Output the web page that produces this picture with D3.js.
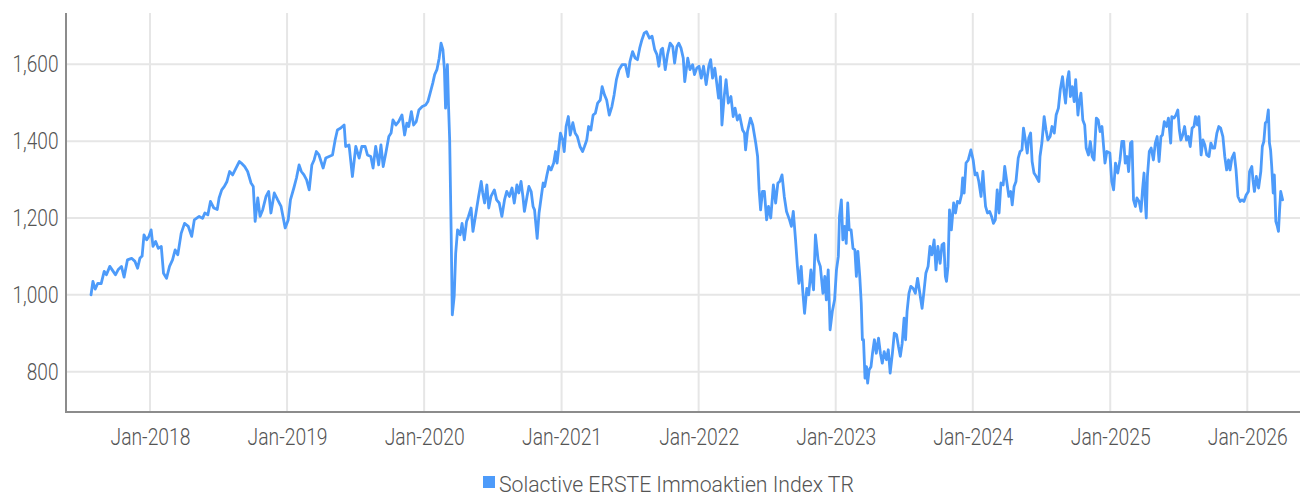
<!DOCTYPE html>
<html>
<head>
    <meta charset="utf-8">
    <script src="https://cdn.jsdelivr.net/npm/d3@7"></script>
    <style>
        body {
            margin: 0;
            background: #fff;
        }
        svg {
            display: block;
        }
        text {
            font-family: Roboto, "Liberation Sans", sans-serif;
            font-weight: 300;
            fill: #555;
        }
    </style>
</head>
<body>
    <svg id="chart" width="1306" height="496"></svg>

    <script>
        // index level readings, roughly weekly
        const dates = [
            "2017-07-28","2017-08-02","2017-08-08","2017-08-15","2017-08-24","2017-09-01","2017-09-07","2017-09-16","2017-09-25","2017-10-01",
            "2017-10-08","2017-10-17","2017-10-24","2017-11-02","2017-11-13","2017-11-22","2017-11-29","2017-12-05","2017-12-11","2017-12-16",
            "2017-12-23","2017-12-29","2018-01-04","2018-01-09","2018-01-16","2018-01-23","2018-01-31","2018-02-06","2018-02-14","2018-02-22",
            "2018-03-02","2018-03-09","2018-03-16","2018-03-25","2018-04-03","2018-04-13","2018-04-22","2018-04-29","2018-05-12","2018-05-21",
            "2018-05-27","2018-06-04","2018-06-11","2018-06-20","2018-06-29","2018-07-04","2018-07-11","2018-07-18","2018-07-25","2018-08-01",
            "2018-08-09","2018-08-18","2018-08-27",
            "2018-09-01","2018-09-10","2018-09-18","2018-09-27","2018-10-03","2018-10-08","2018-10-15","2018-10-21","2018-10-28","2018-11-06",
            "2018-11-13","2018-11-19","2018-11-28","2018-12-07","2018-12-16","2018-12-27","2019-01-04","2019-01-10","2019-01-19","2019-01-26",
            "2019-02-02","2019-02-08","2019-02-15","2019-02-22","2019-03-01","2019-03-08","2019-03-14","2019-03-20","2019-03-27","2019-04-07",
            "2019-04-14","2019-04-23","2019-05-02","2019-05-09","2019-05-15","2019-05-24","2019-06-02","2019-06-06","2019-06-15","2019-06-24",
            "2019-07-03","2019-07-12","2019-07-19","2019-07-28","2019-08-03","2019-08-12","2019-08-18","2019-08-25","2019-09-02","2019-09-08",
            "2019-09-14",
            "2019-09-21","2019-09-29","2019-10-05","2019-10-10","2019-10-18","2019-10-25","2019-11-03","2019-11-10","2019-11-16","2019-11-21",
            "2019-11-28","2019-12-04","2019-12-11","2019-12-18","2019-12-27","2020-01-05","2020-01-11","2020-01-17","2020-01-24","2020-01-29",
            "2020-02-04","2020-02-10","2020-02-15","2020-02-20","2020-02-24","2020-02-27","2020-03-03","2020-03-06","2020-03-09","2020-03-13",
            "2020-03-16","2020-03-21","2020-03-25","2020-03-30","2020-04-06","2020-04-11","2020-04-17","2020-04-23","2020-04-28","2020-05-05",
            "2020-05-10","2020-05-18","2020-05-25","2020-06-01","2020-06-05","2020-06-10","2020-06-16","2020-06-21","2020-06-27","2020-07-06",
            "2020-07-12","2020-07-19","2020-07-26","2020-08-02","2020-08-08","2020-08-15","2020-08-22","2020-08-28","2020-09-04","2020-09-09",
            "2020-09-15","2020-09-20","2020-09-24","2020-10-01","2020-10-06","2020-10-12","2020-10-17",
            "2020-10-21","2020-10-28","2020-11-02","2020-11-08","2020-11-13","2020-11-17","2020-11-23","2020-11-28","2020-12-04","2020-12-11",
            "2020-12-16","2020-12-20","2020-12-25","2020-12-29","2021-01-04","2021-01-08","2021-01-13","2021-01-19","2021-01-24","2021-01-31",
            "2021-02-06","2021-02-12","2021-02-19","2021-02-26","2021-03-03","2021-03-09","2021-03-14","2021-03-20","2021-03-26","2021-04-01",
            "2021-04-07","2021-04-14","2021-04-19","2021-04-25","2021-05-01","2021-05-08","2021-05-15","2021-05-21","2021-05-27","2021-06-03",
            "2021-06-11","2021-06-20","2021-06-27","2021-07-02","2021-07-09","2021-07-16","2021-07-22","2021-07-28","2021-08-03","2021-08-09",
            "2021-08-15","2021-08-23","2021-08-30","2021-09-06","2021-09-12","2021-09-17","2021-09-23","2021-09-27","2021-10-04","2021-10-10",
            "2021-10-17","2021-10-24","2021-10-29","2021-11-04","2021-11-09","2021-11-15","2021-11-21","2021-11-25",
            "2021-12-03","2021-12-09","2021-12-16","2021-12-21","2021-12-27","2022-01-02","2022-01-08","2022-01-14","2022-01-21","2022-01-28",
            "2022-02-02","2022-02-07","2022-02-13","2022-02-17","2022-02-23","2022-02-28","2022-03-04","2022-03-10","2022-03-15","2022-03-21",
            "2022-03-28","2022-04-03","2022-04-08","2022-04-14","2022-04-20","2022-04-28","2022-05-03","2022-05-06","2022-05-11","2022-05-19",
            "2022-05-25","2022-06-02","2022-06-07","2022-06-11","2022-06-15","2022-06-20","2022-06-25","2022-07-01","2022-07-06","2022-07-12",
            "2022-07-19","2022-07-25","2022-07-31","2022-08-05","2022-08-11","2022-08-17","2022-08-23","2022-08-31","2022-09-05","2022-09-10",
            "2022-09-16","2022-09-21","2022-09-25","2022-10-01","2022-10-05","2022-10-10","2022-10-16","2022-10-21","2022-10-27","2022-11-03",
            "2022-11-08","2022-11-15","2022-11-21","2022-11-28","2022-12-03","2022-12-07","2022-12-12","2022-12-17","2022-12-23",
            "2022-12-29","2023-01-03","2023-01-08","2023-01-11","2023-01-16","2023-01-20","2023-01-25","2023-01-29","2023-02-02","2023-02-06",
            "2023-02-11","2023-02-16","2023-02-21","2023-02-25","2023-03-01","2023-03-06","2023-03-10","2023-03-13","2023-03-16","2023-03-20",
            "2023-03-24","2023-03-27","2023-03-31","2023-04-05","2023-04-09","2023-04-14","2023-04-19","2023-04-25","2023-04-30","2023-05-05",
            "2023-05-10","2023-05-16","2023-05-21","2023-05-26","2023-06-01","2023-06-06","2023-06-12","2023-06-17","2023-06-22","2023-06-27",
            "2023-07-02","2023-07-06","2023-07-10","2023-07-15","2023-07-20","2023-07-26","2023-08-01","2023-08-07","2023-08-13","2023-08-19",
            "2023-08-24","2023-08-29","2023-09-04","2023-09-09","2023-09-14","2023-09-20","2023-09-25","2023-09-30","2023-10-06","2023-10-11",
            "2023-10-16","2023-10-20","2023-10-23","2023-10-27","2023-10-31","2023-11-05","2023-11-11","2023-11-16","2023-11-21","2023-11-27",
            "2023-12-02","2023-12-05","2023-12-09","2023-12-14","2023-12-20","2023-12-27","2024-01-02","2024-01-07","2024-01-12","2024-01-17",
            "2024-01-23","2024-01-28","2024-02-01",
            "2024-02-04","2024-02-09","2024-02-15","2024-02-20","2024-02-25","2024-03-01","2024-03-06","2024-03-11","2024-03-16","2024-03-22",
            "2024-03-26","2024-04-01","2024-04-06","2024-04-11","2024-04-15","2024-04-20","2024-04-25","2024-05-01","2024-05-06","2024-05-11",
            "2024-05-15","2024-05-20","2024-05-25","2024-05-29","2024-06-03","2024-06-07","2024-06-12","2024-06-18","2024-06-25","2024-06-28",
            "2024-07-03","2024-07-09","2024-07-14","2024-07-19","2024-07-25","2024-07-30","2024-08-05","2024-08-10","2024-08-16","2024-08-21",
            "2024-08-27","2024-08-31","2024-09-04","2024-09-09","2024-09-13","2024-09-17","2024-09-22","2024-09-27","2024-10-01","2024-10-07",
            "2024-10-10","2024-10-15","2024-10-20","2024-10-25","2024-10-29","2024-11-04","2024-11-09","2024-11-14","2024-11-19","2024-11-25",
            "2024-11-30","2024-12-05","2024-12-10","2024-12-18","2024-12-23","2024-12-31","2025-01-05","2025-01-10","2025-01-15","2025-01-21",
            "2025-01-27","2025-02-01","2025-02-06","2025-02-10","2025-02-15","2025-02-19","2025-02-24","2025-02-28","2025-03-04",
            "2025-03-09","2025-03-13","2025-03-19","2025-03-24","2025-03-28","2025-04-01","2025-04-04","2025-04-07","2025-04-10","2025-04-15",
            "2025-04-20","2025-04-26","2025-05-01","2025-05-06","2025-05-11","2025-05-16","2025-05-20","2025-05-25","2025-05-31","2025-06-05",
            "2025-06-11","2025-06-14","2025-06-20","2025-06-25","2025-06-30","2025-07-04","2025-07-08","2025-07-13","2025-07-18","2025-07-23",
            "2025-07-28","2025-08-02","2025-08-07","2025-08-12","2025-08-16","2025-08-21","2025-08-25","2025-08-31","2025-09-05","2025-09-10",
            "2025-09-15","2025-09-21","2025-09-26","2025-10-01","2025-10-06","2025-10-12","2025-10-17","2025-10-22","2025-10-28","2025-11-02",
            "2025-11-07","2025-11-12","2025-11-16","2025-11-21","2025-11-27","2025-12-02","2025-12-07","2025-12-13","2025-12-18","2025-12-23",
            "2025-12-29","2026-01-04","2026-01-07","2026-01-13","2026-01-16","2026-01-20","2026-01-25","2026-01-31","2026-02-06","2026-02-10",
            "2026-02-14","2026-02-18","2026-02-22","2026-02-26","2026-03-01","2026-03-04","2026-03-07","2026-03-11","2026-03-14","2026-03-18",
            "2026-03-22","2026-03-25","2026-03-28","2026-03-31","2026-04-05"
        ];

        const values = [
            1000,1035,1015,1030,1029,1061,1052,1074,1061,1052,
            1065,1074,1046,1091,1095,1087,1069,1095,1101,1156,
            1143,1152,1169,1126,1139,1121,1126,1056,1043,1074,
            1091,1117,1104,1160,1186,1178,1152,1195,1204,1199,
            1213,1208,1243,1226,1222,1252,1273,1282,1295,1321,
            1312,1330,1347,
            1343,1334,1321,1291,1282,1191,1252,1204,1221,1256,
            1269,1213,1265,1247,1230,1174,1195,1247,1278,1304,
            1338,1321,1312,1299,1273,1338,1351,1373,1364,1330,
            1356,1360,1364,1403,1429,1434,1442,1386,1390,1308,
            1386,1356,1386,1386,1364,1360,1330,1386,1338,1390,
            1334,
            1369,1412,1421,1455,1442,1451,1468,1416,1447,1438,
            1477,1442,1451,1481,1490,1494,1503,1525,1551,1573,
            1586,1616,1655,1638,1586,1486,1599,1490,1403,1160,
            948,996,1108,1169,1156,1186,1143,1191,1204,1226,
            1165,1213,1256,1295,1265,1239,1286,1226,1256,1273,
            1247,1239,1204,1247,1269,1256,1278,1239,1286,1265,
            1295,1256,1217,1256,1282,1269,1230,
            1221,1147,1213,1256,1291,1282,1312,1334,1325,1343,
            1373,1343,1386,1421,1403,1373,1438,1464,1416,1448,
            1421,1412,1386,1373,1386,1403,1438,1429,1468,1473,
            1499,1507,1542,1521,1507,1468,1490,1521,1560,1586,
            1599,1599,1568,1607,1633,1616,1612,1642,1664,1681,
            1685,1668,1673,1638,1625,1595,1638,1642,1586,1625,
            1655,1646,1603,1646,1655,1642,1616,1555,
            1616,1586,1599,1573,1590,1595,1564,1595,1547,1595,
            1612,1564,1590,1560,1512,1568,1442,1516,1560,1499,
            1516,1464,1486,1455,1468,1429,1421,1377,1425,1460,
            1442,1395,1360,1273,1221,1269,1269,1195,1230,1200,
            1286,1239,1291,1295,1312,1256,1217,1195,1178,1217,
            1143,1074,1030,1074,1013,952,1017,1000,1065,1013,
            1156,1091,1074,1004,1048,987,1065,909,957,
            987,1065,1100,1204,1247,1143,1178,1134,1239,1169,
            1169,1121,1117,1048,1113,1048,978,883,883,783,
            813,770,805,813,848,883,848,887,848,822,
            852,831,857,796,848,900,896,866,840,874,
            939,883,957,1004,1022,1017,1004,1043,1004,965,
            1009,1056,1074,1126,1104,1143,1065,1126,1082,1130,
            1134,1048,1035,1074,1221,1169,1239,1213,1243,1239,
            1260,1304,1265,1343,1351,1377,1351,1312,1317,1295,
            1256,1321,1265,
            1230,1213,1217,1204,1186,1195,1273,1213,1291,1286,
            1334,1291,1256,1269,1234,1282,1295,1356,1373,1377,
            1434,1403,1369,1408,1421,1347,1317,1308,1295,1360,
            1395,1464,1429,1403,1412,1438,1421,1468,1486,1534,
            1568,1529,1499,1560,1581,1516,1542,1503,1560,1468,
            1499,1525,1455,1442,1382,1364,1399,1360,1351,1460,
            1455,1425,1438,1343,1373,1369,1295,1273,1343,1317,
            1351,1399,1399,1343,1360,1321,1395,1399,1247,
            1230,1252,1243,1217,1273,1317,1247,1200,1308,1373,
            1382,1351,1395,1412,1347,1412,1416,1451,1438,1460,
            1395,1464,1460,1468,1481,1429,1403,1416,1438,1403,
            1412,1386,1434,1438,1464,1442,1464,1364,1403,1390,
            1364,1360,1395,1382,1382,1421,1438,1434,1412,1360,
            1325,1351,1325,1356,1369,1325,1256,1243,1247,1243,
            1260,1269,1321,1334,1299,1269,1308,1278,1321,1386,
            1399,1447,1451,1481,1395,1377,1334,1265,1312,1191,
            1178,1165,1221,1269,1247
        ];

        const seriesName = "Solactive ERSTE Immoaktien Index TR";
        const yTicks = [800, 1000, 1200, 1400, 1600];
        const xTickYears = [2018, 2019, 2020, 2021, 2022, 2023, 2024, 2025, 2026];

        const parse = d3.timeParse("%Y-%m-%d");
        const data = dates.map(function(d, i) {
            return { date: parse(d), value: values[i] };
        });

        const svg = d3.select("#chart");

        const plotLeft = 66, plotRight = 1300, plotTop = 13, plotBottom = 412;

        const x = d3.scaleTime()
            .domain([new Date(2018, 0, 1), new Date(2026, 0, 1)])
            .range([150, 1247.3]);

        const y = d3.scaleLinear()
            .domain([695, 1733.5])
            .range([plotBottom, plotTop]);

        // horizontal grid
        svg.append("g")
            .selectAll("line")
            .data(yTicks)
            .enter()
            .append("line")
                .attr("x1", plotLeft)
                .attr("x2", plotRight)
                .attr("y1", function(d) { return y(d); })
                .attr("y2", function(d) { return y(d); })
                .attr("stroke", "#e6e6e6")
                .attr("stroke-width", 2);

        // vertical grid
        const xTicks = xTickYears.map(function(yr) { return new Date(yr, 0, 1); });
        svg.append("g")
            .selectAll("line")
            .data(xTicks)
            .enter()
            .append("line")
                .attr("x1", function(d) { return x(d); })
                .attr("x2", function(d) { return x(d); })
                .attr("y1", plotTop)
                .attr("y2", plotBottom)
                .attr("stroke", "#e6e6e6")
                .attr("stroke-width", 2);

        // y axis -- the original face is a condensed one, so squeeze it a bit
        const yAxis = d3.axisLeft(y)
            .tickValues(yTicks)
            .tickFormat(d3.format(","))
            .tickSize(0)
            .tickPadding(9);

        const yg = svg.append("g")
            .attr("transform", "translate(" + plotLeft + ",0)")
            .call(yAxis);
        yg.select(".domain").remove();
        yg.selectAll("text")
            .style("font-size", "23px")
            .attr("fill", "#555")
            .attr("transform", "scale(0.83,1)");

        // x axis
        const xAxis = d3.axisBottom(x)
            .tickValues(xTicks)
            .tickFormat(d3.timeFormat("%b-%Y"))
            .tickSize(0)
            .tickPadding(17);

        const xg = svg.append("g")
            .attr("transform", "translate(0," + plotBottom + ")")
            .call(xAxis);
        xg.select(".domain").remove();
        xg.selectAll("text")
            .style("font-size", "23px")
            .attr("fill", "#555")
            .attr("transform", "scale(0.84,1)");

        // axis lines
        svg.append("line")
            .attr("x1", plotLeft).attr("x2", plotLeft)
            .attr("y1", plotTop).attr("y2", plotBottom + 1)
            .attr("stroke", "#8c8c8c")
            .attr("stroke-width", 2);

        svg.append("line")
            .attr("x1", plotLeft - 1).attr("x2", plotRight)
            .attr("y1", plotBottom).attr("y2", plotBottom)
            .attr("stroke", "#8c8c8c")
            .attr("stroke-width", 2);

        // series line
        const line = d3.line()
            .x(function(d) { return x(d.date); })
            .y(function(d) { return y(d.value); });

        svg.append("path")
            .datum(data)
            .attr("d", line)
            .attr("fill", "none")
            .attr("stroke", "#4d9bfa")
            .attr("stroke-width", 2.8)
            .attr("stroke-linejoin", "round")
            .attr("stroke-linecap", "round");

        // legend
        const legend = svg.append("g")
            .attr("transform", "translate(483,476)");

        legend.append("rect")
            .attr("x", 0)
            .attr("y", 0)
            .attr("width", 12)
            .attr("height", 12)
            .attr("fill", "#4d9bfa");

        legend.append("text")
            .attr("x", 16)
            .attr("y", 16)
            .style("font-size", "22px")
            .attr("textLength", 355)
            .attr("lengthAdjust", "spacingAndGlyphs")
            .text(seriesName);
    </script>
</body>
</html>
